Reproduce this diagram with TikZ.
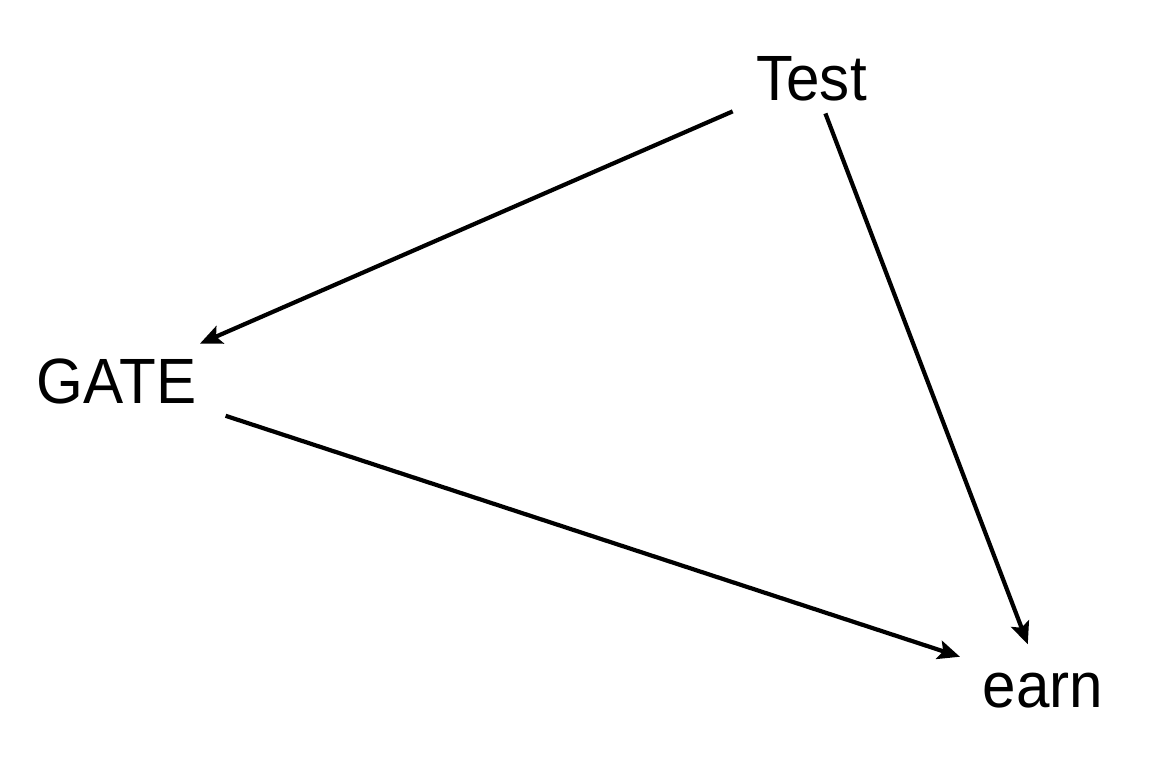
\documentclass[tikz,border=0pt]{standalone}
\usepackage{fontspec}
\setmainfont{Liberation Sans}
\usetikzlibrary{arrows.meta}
\begin{document}
\begin{tikzpicture}[x=0.5pt,y=-0.5pt,
  lbl/.style={inner sep=0pt,outer sep=0pt,anchor=base,xscale=0.94,
    font=\fontsize{32pt}{38pt}\selectfont,text height=23pt,text depth=0pt},
  edge/.style={line width=2.1pt,-{Stealth[length=11pt,width=9.5pt,inset=2.2pt]}}]
\useasboundingbox (0,0) rectangle (1152,768);
\node[lbl] (test) at (811.5,100) {Test};
\node[lbl] (gate) at (116.5,403) {GATE};
\node[lbl] (earn) at (1043,707) {earn};
\draw[edge,shorten <=43pt,shorten >=45.5pt] (test.center) -- (gate.center);
\draw[edge,shorten <=19.5pt,shorten >=21.3pt] (test.center) -- (earn.center);
\draw[edge,shorten <=57.4pt,shorten >=43.7pt] (gate.center) -- (earn.center);
\end{tikzpicture}
\end{document}
